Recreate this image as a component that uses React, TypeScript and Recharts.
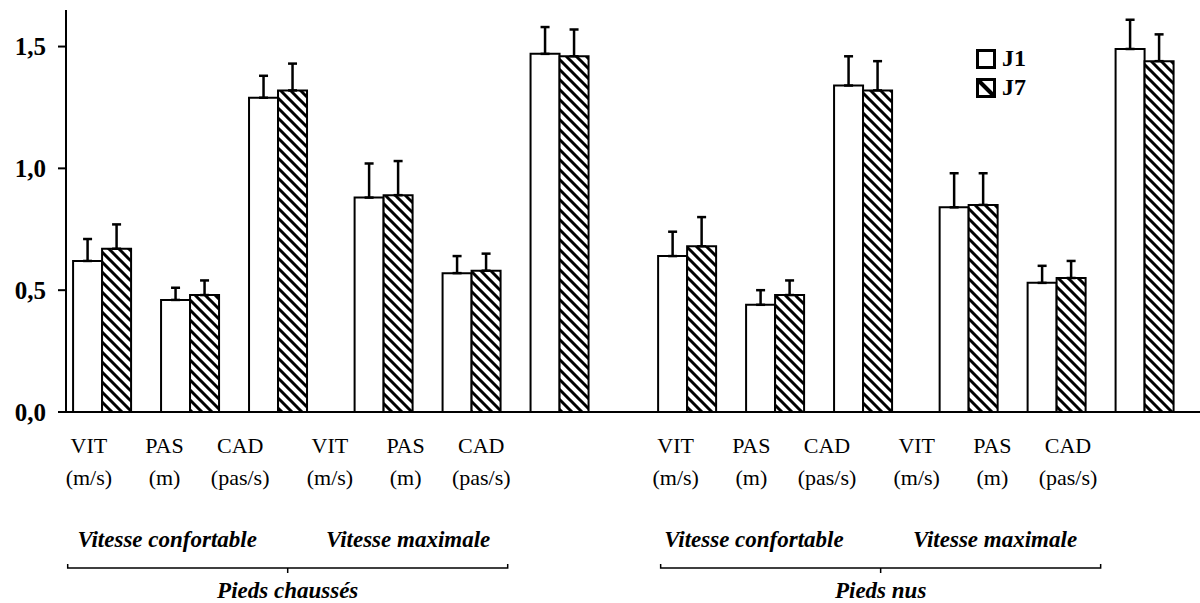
import React from 'react';
import { BarChart, Bar, XAxis, YAxis, ErrorBar, Legend } from 'recharts';

const metrics = ['VIT', 'PAS', 'CAD'];
const units = ['(m/s)', '(m)', '(pas/s)'];
const speeds = ['Vitesse confortable', 'Vitesse maximale'];
const conditions = ['Pieds chaussés', 'Pieds nus'];
const series = ['J1', 'J7'];

// order: chaussés (confortable VIT PAS CAD, maximale VIT PAS CAD), then nus
const j1 = [0.62, 0.46, 1.29, 0.88, 0.57, 1.47, 0.64, 0.44, 1.34, 0.84, 0.53, 1.49];
const j1Sd = [0.09, 0.05, 0.09, 0.14, 0.07, 0.11, 0.1, 0.06, 0.12, 0.14, 0.07, 0.12];
const j7 = [0.67, 0.48, 1.32, 0.89, 0.58, 1.46, 0.68, 0.48, 1.32, 0.85, 0.55, 1.44];
const j7Sd = [0.1, 0.06, 0.11, 0.14, 0.07, 0.11, 0.12, 0.06, 0.12, 0.13, 0.07, 0.11];

const yTicks = [0, 0.5, 1, 1.5];

// layout of the x axis (in category steps)
const X_MIN = -0.41;
const X_MAX = 12.48;
const GROUP_STEP = 3.2;
const HALF_STEP = 6.65;
const LBL_START = -0.15;
const LBL_STEP = 0.86;
const LBL_GROUP = 2.74;
const LBL_HALF = 6.67;
const BRACE_START = 2.11;
const BRACE_STEP = 6.74;

const serif = '"Liberation Serif", "Times New Roman", serif';

const data: any[] = [];
const labelPos: number[] = [];
const groupPos: number[] = [];
const bracePos: number[] = [];
conditions.forEach((_, h) => {
  bracePos.push(BRACE_START + h * BRACE_STEP);
  speeds.forEach((_, k) => {
    groupPos.push(LBL_START + LBL_STEP + k * LBL_GROUP + h * LBL_HALF + 0.03);
    metrics.forEach((m, j) => {
      const i = h * 6 + k * 3 + j;
      data.push({
        name: m,
        pos: h * HALF_STEP + k * GROUP_STEP + j,
        j1: j1[i],
        j1Sd: [0, j1Sd[i]],
        j7: j7[i],
        j7Sd: [0, j7Sd[i]],
      });
      labelPos.push(LBL_START + j * LBL_STEP + k * LBL_GROUP + h * LBL_HALF);
    });
  });
});

function MetricTick({ x, y, index }: any) {
  const j = index % 3;
  return (
    <g>
      <text x={x} y={y + 31} textAnchor="middle" fontFamily={serif} fontSize={22} fill="#000">
        {metrics[j]}
      </text>
      <text x={x} y={y + 63} textAnchor="middle" fontFamily={serif} fontSize={22} fill="#000">
        {units[j]}
      </text>
    </g>
  );
}

function SpeedTick({ x, y, index }: any) {
  return (
    <text x={x} y={y + 65} textAnchor="middle" fontFamily={serif} fontSize={23}
      fontWeight="bold" fontStyle="italic" fill="#000">
      {speeds[index % 2]}
    </text>
  );
}

function ConditionTick({ x, y, index }: any) {
  const w = 220;
  return (
    <g>
      <path
        d={`M${x - w},${y + 22} V${y + 26} H${x + w} V${y + 22} M${x},${y + 26} V${y + 31}`}
        stroke="#000" strokeWidth={1.5} fill="none"
      />
      <text x={x} y={y + 56} textAnchor="middle" fontFamily={serif} fontSize={23}
        fontWeight="bold" fontStyle="italic" fill="#000">
        {conditions[index]}
      </text>
    </g>
  );
}

function LegendBox() {
  return (
    <div style={{ fontFamily: serif, fontWeight: 'bold', fontSize: 24, color: '#000' }}>
      {series.map((s, i) => (
        <div key={s} style={{ display: 'flex', alignItems: 'center', height: 29 }}>
          <svg width={20} height={20}>
            <rect x={1.5} y={1.5} width={17} height={17} fill="#fff" stroke="#000" strokeWidth={3} />
            {i === 1 && <line x1={2} y1={2} x2={18} y2={18} stroke="#000" strokeWidth={4} />}
          </svg>
          <span style={{ marginLeft: 6 }}>{s}</span>
        </div>
      ))}
    </div>
  );
}

const textAxis = {
  type: 'number' as const,
  dataKey: 'pos',
  domain: [X_MIN, X_MAX],
  allowDataOverflow: true,
  interval: 0,
  tickLine: false,
  axisLine: false,
  tickSize: 0,
  tickMargin: 0,
};

export default function App() {
  return (
    <div style={{ position: 'absolute', left: 0, top: 0 }}>
      <svg width={0} height={0} style={{ position: 'absolute' }}>
        <defs>
          <pattern id="hatch" patternUnits="userSpaceOnUse" width={10} height={10}>
            <rect width={10} height={10} fill="#fff" />
            <path d="M-5,-5 L15,15 M-5,5 L5,15 M5,-5 L15,5" stroke="#000" strokeWidth={3} />
          </pattern>
        </defs>
      </svg>
      <BarChart
        width={1200}
        height={603}
        data={data}
        barSize={29}
        barGap={0}
        margin={{ top: 10, right: 0, bottom: 0, left: 0 }}
      >
        <XAxis
          xAxisId="x1bars"
          type="number"
          dataKey="pos"
          domain={[X_MIN, X_MAX]}
          allowDataOverflow
          tick={false}
          tickLine={false}
          axisLine={{ stroke: '#000', strokeWidth: 2 }}
          height={10}
        />
        <XAxis xAxisId="x2lbl" {...textAxis} ticks={labelPos} tick={<MetricTick />} height={60} />
        <XAxis xAxisId="x3grp" {...textAxis} ticks={groupPos} tick={<SpeedTick />} height={60} />
        <XAxis xAxisId="x4half" {...textAxis} ticks={bracePos} tick={<ConditionTick />} height={61} />
        <YAxis
          type="number"
          domain={[0, 1.65]}
          ticks={yTicks}
          width={66}
          tickFormatter={(v: number) => v.toFixed(1).replace('.', ',')}
          axisLine={{ stroke: '#000', strokeWidth: 2 }}
          tickLine={{ stroke: '#000', strokeWidth: 2 }}
          tickSize={8}
          tickMargin={12}
          tick={{ fill: '#000', fontSize: 25, fontWeight: 'bold', fontFamily: serif }}
        />
        <Legend
          layout="vertical"
          align="center"
          verticalAlign="middle"
          content={<LegendBox />}
          wrapperStyle={{ left: 976, top: 44, width: 'auto', height: 'auto' }}
        />
        <Bar xAxisId="x1bars" dataKey="j1" name="J1" fill="#fff" stroke="#000" strokeWidth={2}
          isAnimationActive={false}>
          <ErrorBar dataKey="j1Sd" direction="y" width={4.5} stroke="#000" strokeWidth={2.5}
            isAnimationActive={false} />
        </Bar>
        <Bar xAxisId="x1bars" dataKey="j7" name="J7" fill="url(#hatch)" stroke="#000" strokeWidth={2}
          isAnimationActive={false}>
          <ErrorBar dataKey="j7Sd" direction="y" width={4.5} stroke="#000" strokeWidth={2.5}
            isAnimationActive={false} />
        </Bar>
      </BarChart>
    </div>
  );
}
